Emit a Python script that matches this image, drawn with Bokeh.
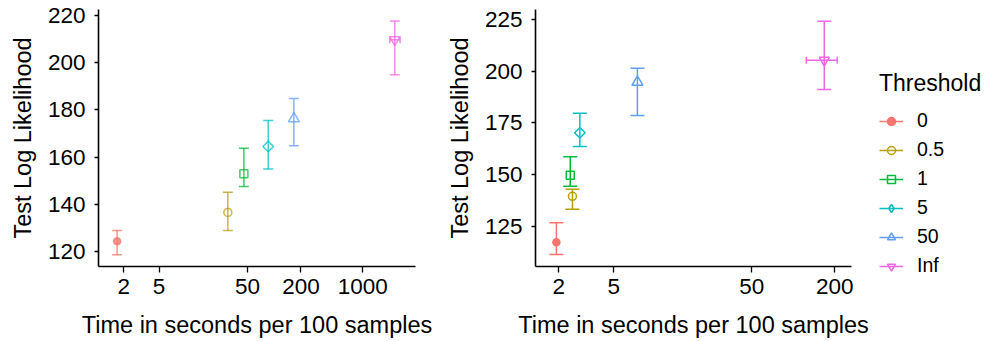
import math
from bokeh.plotting import figure
from bokeh.layouts import row
from bokeh.models import (FixedTicker, PrintfTickFormatter, Legend, LegendItem,
                          ColumnDataSource, Range1d)
from bokeh.embed import file_html
from bokeh.resources import INLINE

# ---------------- data ----------------
thresholds = ["0", "0.5", "1", "5", "50", "Inf"]
colors = ["#F8766D", "#B79F00", "#00BA38", "#00BFC4", "#619CFF", "#F564E3"]
markers = ["circle", "circle", "square", "square", "triangle", "inverted_triangle"]
legend_markers = ["circle", "circle", "square", "diamond", "triangle", "inverted_triangle"]
marker_angles = [0, 0, 0, math.pi / 4, 0, 0]
filled = [True, False, False, False, False, False]
marker_sizes = [7, 8, 8, 7.5, 11, 10]

# left panel
left_time = [1.68, 29.9, 45.4, 85.5, 166.7, 2300]
left_ll = [124.4, 136.6, 153.0, 164.5, 176.3, 209.7]
left_lo = [118.7, 128.9, 147.6, 155.0, 164.8, 194.9]
left_hi = [128.9, 145.1, 163.8, 175.5, 184.8, 217.6]
left_inf_time_range = [2020, 2640]
left_xticks = [2, 5, 50, 200, 1000]
left_yticks = [120, 140, 160, 180, 200, 220]

# right panel
right_time = [1.92, 2.51, 2.42, 2.84, 7.42, 167.6]
right_ll = [117.4, 139.6, 149.8, 170.3, 194.7, 205.3]
right_lo = [111.5, 133.3, 144.4, 163.6, 178.6, 191.2]
right_hi = [126.8, 143.0, 158.7, 179.7, 201.4, 224.1]
right_inf_time_range = [124.2, 208]
right_xticks = [2, 5, 50, 200]
right_yticks = [125, 150, 175, 200, 225]

FONT = "Liberation Sans"


def make_panel(times, ll, lo, hi, inf_range, xticks, yticks, xr, yr,
               alpha, cap_size, frame_w, border_left, border_right):
    p = figure(x_axis_type="log", x_range=Range1d(*xr), y_range=Range1d(*yr),
               frame_width=frame_w, frame_height=257,
               min_border_left=border_left, min_border_right=border_right,
               min_border_top=9, min_border_bottom=75,
               output_backend="svg", toolbar_location=None)
    p.xgrid.visible = False
    p.ygrid.visible = False
    p.outline_line_color = None
    p.background_fill_color = "white"
    p.border_fill_color = "white"

    for ax in (p.xaxis[0], p.yaxis[0]):
        ax.axis_line_color = "black"
        ax.axis_line_width = 1.6
        ax.major_tick_line_color = "black"
        ax.major_tick_line_width = 1.3
        ax.major_tick_in = 0
        ax.minor_tick_line_color = None
        ax.major_label_text_font = FONT
        ax.major_label_text_font_size = "22.5px"
        ax.major_label_text_color = "black"
        ax.axis_label_text_font = FONT
        ax.axis_label_text_font_size = "23.5px"
        ax.axis_label_text_font_style = "normal"
        ax.axis_label_text_color = "black"

    p.xaxis.ticker = FixedTicker(ticks=xticks)
    p.xaxis.formatter = PrintfTickFormatter(format="%d")
    p.xaxis.major_tick_out = 6
    p.xaxis.major_label_standoff = 6
    p.xaxis.axis_label = "Time in seconds per 100 samples"
    p.xaxis.axis_label_standoff = 15

    p.yaxis.ticker = FixedTicker(ticks=yticks)
    p.yaxis.major_tick_out = 4
    p.yaxis.major_label_standoff = 9
    p.yaxis.axis_label = "Test Log Likelihood"
    p.yaxis.axis_label_standoff = 9

    items = []
    n = len(thresholds)
    for i in range(n):
        c = colors[i]
        src = ColumnDataSource(dict(x=[times[i]], y=[ll[i]], lo=[lo[i]], hi=[hi[i]]))
        stem = p.segment(x0="x", y0="lo", x1="x", y1="hi", source=src,
                         line_color=c, line_width=1.5, line_alpha=alpha)
        caps = ColumnDataSource(dict(x=[times[i], times[i]], y=[lo[i], hi[i]]))
        p.scatter(x="x", y="y", source=caps, marker="dash", size=cap_size,
                  line_color=c, line_width=1.5, line_alpha=alpha)
        if thresholds[i] == "Inf":
            hsrc = ColumnDataSource(dict(x0=[inf_range[0]], x1=[inf_range[1]], y=[ll[i]]))
            p.segment(x0="x0", y0="y", x1="x1", y1="y", source=hsrc,
                      line_color=c, line_width=1.5, line_alpha=alpha)
            hcaps = ColumnDataSource(dict(x=inf_range, y=[ll[i], ll[i]]))
            p.scatter(x="x", y="y", source=hcaps, marker="dash", size=7,
                      angle=math.pi / 2, line_color=c, line_width=1.5,
                      line_alpha=alpha)
        pt = p.scatter(x="x", y="y", source=src, marker=markers[i],
                       size=marker_sizes[i], angle=marker_angles[i],
                       line_color=c, line_width=1.5, line_alpha=alpha,
                       fill_color=c if filled[i] else None,
                       fill_alpha=alpha if filled[i] else 0)
        key = pt
        if legend_markers[i] != markers[i]:
            key = p.scatter(x="x", y="y", source=src, marker=legend_markers[i],
                            size=marker_sizes[i], line_color=c, line_width=1.5,
                            line_alpha=alpha, fill_color=None, fill_alpha=0,
                            visible=False)
        items.append(LegendItem(label=thresholds[i], renderers=[stem, key]))
    return p, items


p1, _ = make_panel(left_time, left_ll, left_lo, left_hi, left_inf_time_range,
                   left_xticks, left_yticks, (1.035, 3940), (113.7, 222.5),
                   0.75, 10, 317, 98, 25)
p2, items = make_panel(right_time, right_ll, right_lo, right_hi, right_inf_time_range,
                       right_xticks, right_yticks, (1.355, 264), (105.7, 229.8),
                       1.0, 14, 316, 95, 138)

legend = Legend(items=items, title="Threshold", location=(28, -11))
legend.title_text_font = FONT
legend.title_text_font_size = "23px"
legend.title_text_font_style = "normal"
legend.title_text_color = "black"
legend.title_standoff = 12
legend.label_text_font = FONT
legend.label_text_font_size = "19.5px"
legend.label_text_color = "black"
legend.label_standoff = 14
legend.glyph_width = 24
legend.glyph_height = 20
legend.label_height = 20
legend.spacing = 6
legend.padding = 0
legend.margin = 0
legend.border_line_color = None
legend.background_fill_color = None
legend.inactive_fill_alpha = 0
p2.add_layout(legend, "right")

layout = row(p1, p2, spacing=0)

open("out.html", "w").write(file_html(layout, INLINE))
